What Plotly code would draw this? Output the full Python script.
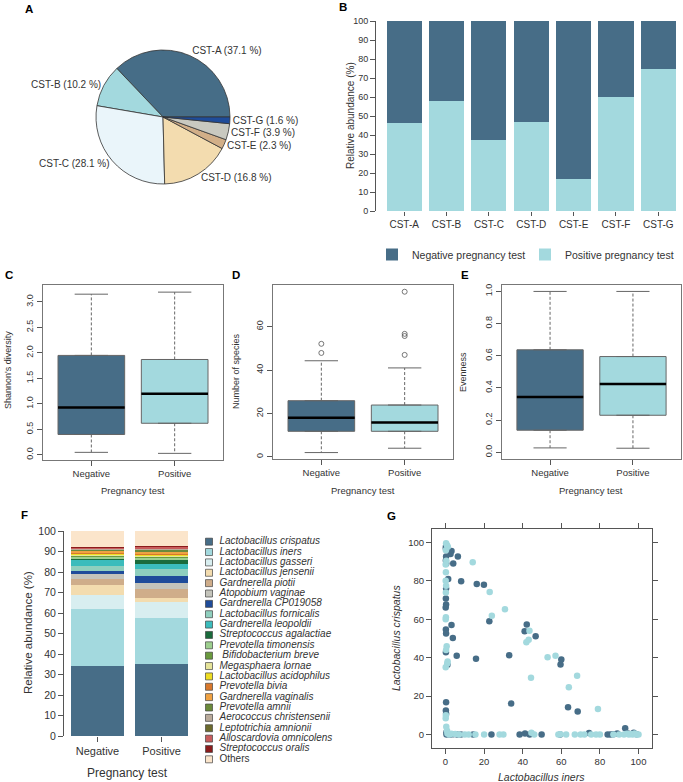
import plotly.graph_objects as go

W, H = 683, 782
FONT = "Liberation Sans, Arial, sans-serif"
TXT = "#333333"
DARK = "#476d87"
LIGHT = "#a3d9de"

# ---------------- Panel A data ----------------
cst_labels = ["CST-A", "CST-B", "CST-C", "CST-D", "CST-E", "CST-F", "CST-G"]
cst_share = [37.1, 10.2, 28.1, 16.8, 2.3, 3.9, 1.6]
cst_colors = ["#466d87", "#a3d9de", "#eaf5fa", "#f3dcaf", "#d2af88", "#c9c9c0", "#1f4c9a"]

# ---------------- Panel B data ----------------
cst_positive = [46.2, 57.7, 37.5, 46.6, 16.7, 60.0, 75.0]
cst_negative = [53.8, 42.3, 62.5, 53.4, 83.3, 40.0, 25.0]

# ---------------- Panels C-E data ----------------
groups = ["Negative", "Positive"]
shannon_low = [0.05, 0.03]
shannon_q1 = [0.40, 0.62]
shannon_med = [0.93, 1.20]
shannon_q3 = [1.95, 1.87]
shannon_high = [3.15, 3.19]
shannon_out = [[], []]

species_low = [2, 4]
species_q1 = [11.8, 11.8]
species_med = [18.1, 15.9]
species_q3 = [25.9, 23.9]
species_high = [44.3, 41.0]
species_out = [[52.1, 47.9], [76.1, 56.7, 55.7, 47.0]]

even_low = [0.027, 0.025]
even_q1 = [0.137, 0.23]
even_med = [0.344, 0.425]
even_q3 = [0.637, 0.595]
even_high = [1.0, 1.0]
even_out = [[], []]

# ---------------- Panel F data ----------------
taxa = ["Lactobacillus crispatus", "Lactobacillus iners", "Lactobacillus gasseri",
        "Lactobacillus jensenii", "Gardnerella piotii", "Atopobium vaginae",
        "Gardnerella CP019058", "Lactobacillus fornicalis", "Gardnerella leopoldii",
        "Streptococcus agalactiae", "Prevotella timonensis", " Bifidobacterium breve",
        "Megasphaera lornae", "Lactobacillus acidophilus", "Prevotella bivia",
        "Gardnerella vaginalis", "Prevotella amnii", "Aerococcus christensenii",
        "Leptotrichia amnionii", "Alloscardovia omnicolens", "Streptococcus oralis",
        "Others"]
taxa_colors = ["#476d87", "#a3d9de", "#d8eef0", "#f3dcaf", "#cfad8a", "#c4c4bb",
               "#1f4c9a", "#8fcfbe", "#3bbcbc", "#1a6b3c", "#9dcf8e", "#6a9a3e",
               "#e6e49a", "#eedd22", "#d8782c", "#f0a242", "#6b8a3a", "#b9aa9a",
               "#6b6a2c", "#c85c5c", "#8b1c1c", "#fbe5cb"]
abund_negative = [34.1, 27.7, 7.0, 4.9, 2.7, 2.6, 1.6, 2.5, 2.8, 0.9, 0.6, 0.5,
                  0.6, 0.6, 0.4, 1.2, 0.4, 0.3, 0.3, 0.2, 0.4, 7.7]
abund_positive = [35.0, 22.4, 8.1, 1.7, 4.5, 2.8, 3.7, 3.1, 2.4, 2.2, 1.0, 0.8,
                  0.4, 0.3, 0.6, 1.2, 0.6, 0.5, 0.4, 0.8, 0.3, 7.2]

# ---------------- Panel G data ----------------
iners_neg = [3.1, 2.6, 6.4, 4.0, 8.1, 16.2, 19.9, 22.7, 3.1, 3.8, 5.8, 15.8, 33.0, 34.0,
             41.0, 42.1, 46.7, 60.0, 59.6, 63.5, 68.5,
             0.2, 0.3, 0.2, 0.4, 0.3, 0.2, 0.3, 0.1, 0.2, 0.3, 1.4, 0.2, 1.0, 0.3, 0.2,
             0.3, 0.2, 0.5,
             0.5, 1.5, 2.5, 4.0, 6.0, 8.0, 14.3, 23.8, 38.4, 41.2, 43.6, 49.8, 59.4,
             74.4, 84.0, 85.5, 87.0, 89.0, 93.1, 94.5, 97.5, 99.0]
crisp_neg = [95.5, 94.0, 92.7, 89.0, 79.8, 78.4, 78.0, 59.0, 57.0, 50.2, 41.0, 39.4, 41.3, 16.1,
             53.8, 57.3, 51.2, 39.1, 36.5, 14.2, 12.0,
             96.9, 92.7, 90.6, 89.0, 76.0, 70.8, 67.7, 66.1, 54.7, 52.6, 81.0, 42.9, 36.3,
             16.8, 12.5, 10.8, 97.8, 1.2,
             0.0, 0.3, 0.0, 0.2, 0.0, 0.0, 0.0, 0.0, 0.0, 0.6, 0.0, 0.0, 0.0,
             0.8, 0.0, 0.0, 0.2, 0.6, 3.3, 0.5, 1.0, 0.2]
iners_pos = [0.3, 0.8, 1.2, 0.2, 0.4, 0.1, 0.2, 0.1, 0.3, 0.2, 0.2, 0.1, 0.6, 0.3, 1.1,
             0.9, 0.1, 0.2, 0.1, 0.4, 0.8,
             14.1, 22.9, 24.0, 30.8, 41.9, 43.1, 43.5, 44.3, 52.9, 57.0, 63.9, 68.2, 79.0,
             1.0, 2.0, 3.0, 5.0, 7.0, 10.0, 12.0, 15.5, 20.0, 28.0, 30.0, 44.5, 46.0,
             58.5, 59.5, 62.5, 67.0, 70.0, 72.0, 75.5, 78.0, 80.0, 87.0, 90.0, 92.5,
             94.0, 95.0, 96.0, 97.0, 98.0, 99.0, 100.0]
crisp_pos = [99.6, 98.5, 97.8, 96.0, 90.5, 88.5, 84.5, 80.0, 77.5, 74.0, 61.0, 60.0, 46.0,
             44.0, 38.0, 37.0, 35.0, 10.0, 8.5, 4.0, 2.0,
             89.7, 74.2, 61.8, 65.2, 48.0, 49.3, 54.0, 29.6, 40.3, 41.0, 24.6, 30.6, 13.3,
             0.5, 0.0, 0.4, 0.3, 0.0, 0.0, 0.0, 0.0, 0.0, 0.0, 0.0, 1.0, 0.0,
             0.0, 0.2, 0.0, 0.0, 0.0, 0.0, 0.0, 0.0, 0.0, 0.0, 0.0, 0.0,
             0.4, 0.0, 0.3, 0.0, 0.5, 0.0, 0.0]


def px(p):
    return p / W


def py(p):
    return 1 - p / H


fig = go.Figure()

# ---------------- A: pie ----------------
# counterclockwise pies in plotly end the first slice at `rotation`; start CST-A at 3 o'clock
pie_rotation = 90 - 360 * cst_share[0] / sum(cst_share)
fig.add_trace(go.Pie(
    values=cst_share, labels=cst_labels,
    text=[f"{l} ({v} %)" for l, v in zip(cst_labels, cst_share)],
    textinfo="text", textposition="outside", sort=False,
    direction="counterclockwise", rotation=pie_rotation,
    marker=dict(colors=cst_colors, line=dict(color="#333333", width=0.8)),
    textfont=dict(size=10, color=TXT, family=FONT),
    domain=dict(x=[px(96), px(230)], y=[py(184), py(50)]),
    showlegend=False, hoverinfo="label+percent"))

# ---------------- B: stacked bars ----------------
fig.add_trace(go.Bar(x=cst_labels, y=cst_positive, name="Positive pregnancy test",
                     marker=dict(color=LIGHT, line=dict(width=0)), legendrank=2,
                     xaxis="x", yaxis="y"))
fig.add_trace(go.Bar(x=cst_labels, y=cst_negative, name="Negative pregnancy test",
                     marker=dict(color=DARK, line=dict(width=0)), legendrank=1,
                     xaxis="x", yaxis="y"))


# ---------------- C-E: boxplots ----------------
def add_box(xa, ya, low, q1, med, q3, high, outs):
    fills = [DARK, LIGHT]
    for i in range(2):
        c = i + 1
        fig.add_trace(go.Box(x=[c], q1=[q1[i]], median=[med[i]], q3=[q3[i]],
                             lowerfence=[q1[i]], upperfence=[q3[i]], width=0.8,
                             fillcolor=fills[i], line=dict(color="#666666", width=1),
                             xaxis=xa, yaxis=ya, showlegend=False, hoverinfo="skip"))
        # dashed whiskers
        fig.add_trace(go.Scatter(x=[c, c, None, c, c], y=[q3[i], high[i], None, q1[i], low[i]],
                                 mode="lines", line=dict(color="#666666", width=1, dash="3px,2px"),
                                 xaxis=xa, yaxis=ya, showlegend=False, hoverinfo="skip"))
        # caps
        fig.add_trace(go.Scatter(x=[c - 0.2, c + 0.2, None, c - 0.2, c + 0.2],
                                 y=[high[i], high[i], None, low[i], low[i]],
                                 mode="lines", line=dict(color="#666666", width=1),
                                 xaxis=xa, yaxis=ya, showlegend=False, hoverinfo="skip"))
        # median
        fig.add_trace(go.Scatter(x=[c - 0.4, c + 0.4], y=[med[i], med[i]], mode="lines",
                                 line=dict(color="black", width=2.5),
                                 xaxis=xa, yaxis=ya, showlegend=False, hoverinfo="skip"))
        if outs[i]:
            fig.add_trace(go.Scatter(x=[c] * len(outs[i]), y=outs[i], mode="markers",
                                     marker=dict(symbol="circle-open", size=5, color="#555555",
                                                 line=dict(width=0.8)),
                                     xaxis=xa, yaxis=ya, showlegend=False, hoverinfo="skip"))


add_box("x2", "y2", shannon_low, shannon_q1, shannon_med, shannon_q3, shannon_high, shannon_out)
add_box("x3", "y3", species_low, species_q1, species_med, species_q3, species_high, species_out)
add_box("x4", "y4", even_low, even_q1, even_med, even_q3, even_high, even_out)

# ---------------- F: stacked composition ----------------
for name, col, vn, vp in zip(taxa, taxa_colors, abund_negative, abund_positive):
    fig.add_trace(go.Bar(x=groups, y=[vn, vp], name=name.strip(),
                         marker=dict(color=col, line=dict(width=0)),
                         xaxis="x5", yaxis="y5", showlegend=False))

# manual legend for F
fig.add_trace(go.Scatter(x=[0] * len(taxa), y=list(range(len(taxa))), mode="markers",
                         marker=dict(symbol="square", size=7, color=taxa_colors,
                                     line=dict(color="#444444", width=0.7)),
                         xaxis="x6", yaxis="y6", showlegend=False, cliponaxis=False,
                         hoverinfo="skip"))
legend_text = [("<i>" + t + "</i>") if t != "Others" else t for t in taxa]
fig.add_trace(go.Scatter(x=[0.08] * len(taxa), y=list(range(len(taxa))), mode="text",
                         text=legend_text, textposition="middle right",
                         textfont=dict(size=10, color=TXT, family=FONT),
                         xaxis="x6", yaxis="y6", showlegend=False, cliponaxis=False,
                         hoverinfo="skip"))

# ---------------- G: scatter ----------------
fig.add_trace(go.Scatter(x=iners_neg, y=crisp_neg, mode="markers",
                         marker=dict(size=6.5, color=DARK), xaxis="x7", yaxis="y7",
                         showlegend=False, name="Negative"))
fig.add_trace(go.Scatter(x=iners_pos, y=crisp_pos, mode="markers",
                         marker=dict(size=6.5, color=LIGHT), xaxis="x7", yaxis="y7",
                         showlegend=False, name="Positive"))

tickfont = dict(size=9, color=TXT, family=FONT)
AX = "#555555"

box_x = dict(range=[0.42, 2.58], tickvals=[1, 2], ticktext=groups, showline=True,
             mirror=True, linecolor="#777777", linewidth=1, ticks="outside", ticklen=5,
             tickcolor="#555555", showgrid=False, zeroline=False, tickfont=dict(size=9.5, color=TXT, family=FONT))
box_y = dict(showline=True, mirror=True, linecolor="#777777", linewidth=1, ticks="outside",
             ticklen=5, tickcolor="#555555", showgrid=False, zeroline=False, tickangle=-90,
             tickfont=tickfont)

fig.update_layout(
    width=W, height=H, margin=dict(l=0, r=0, t=0, b=0, autoexpand=False),
    paper_bgcolor="white", plot_bgcolor="white",
    font=dict(family=FONT, color=TXT),
    barmode="stack", bargap=0.17,
    # B
    xaxis=dict(domain=[px(383), px(679.5)], anchor="y", showline=False, ticks="outside",
               ticklen=4, tickcolor=AX, showgrid=False, tickfont=dict(size=10, color=TXT, family=FONT)),
    yaxis=dict(domain=[py(211), py(21)], anchor="free", position=px(375), range=[0, 100],
               tickvals=list(range(0, 101, 10)), showline=True, linecolor=AX, ticks="outside",
               ticklen=5, tickcolor=AX, showgrid=False, zeroline=False,
               tickfont=dict(size=9, color=TXT, family=FONT)),
    # C
    xaxis2=dict(domain=[px(43), px(223)], anchor="y2", **box_x),
    yaxis2=dict(domain=[py(460), py(285)], anchor="x2", range=[-0.1, 3.33],
                tickvals=[0, 0.5, 1, 1.5, 2, 2.5, 3], ticktext=["0.0", "0.5", "1.0", "1.5", "2.0", "2.5", "3.0"], **box_y),
    # D
    xaxis3=dict(domain=[px(273), px(453)], anchor="y3", **box_x),
    yaxis3=dict(domain=[py(459), py(285)], anchor="x3", range=[-0.96, 79.2],
                tickvals=[0, 20, 40, 60], **box_y),
    # E
    xaxis4=dict(domain=[px(502), px(681)], anchor="y4", **box_x),
    yaxis4=dict(domain=[py(459), py(285)], anchor="x4", range=[-0.042, 1.04],
                tickvals=[0, 0.2, 0.4, 0.6, 0.8, 1.0], ticktext=["0.0", "0.2", "0.4", "0.6", "0.8", "1.0"], **box_y),
    # F
    xaxis5=dict(domain=[px(65.5), px(193.5)], anchor="y5", showline=False, ticks="outside",
                ticklen=5, tickcolor=AX, showgrid=False, tickfont=dict(size=11, color=TXT, family=FONT)),
    yaxis5=dict(domain=[py(736), py(531)], anchor="free", position=px(63), range=[0, 100],
                tickvals=list(range(0, 101, 10)), showline=True, linecolor=AX, ticks="outside",
                ticklen=5, tickcolor=AX, showgrid=False, zeroline=False,
                tickfont=dict(size=10.5, color=TXT, family=FONT)),
    # F legend
    xaxis6=dict(domain=[px(209), px(340)], anchor="y6", range=[0, 1], visible=False),
    yaxis6=dict(domain=[py(764.5), py(536.5)], anchor="x6", range=[21.5, -0.5], visible=False),
    # G
    xaxis7=dict(domain=[px(432), px(652)], anchor="y7", range=[-7, 107],
                tickvals=[0, 20, 40, 60, 80, 100], showline=True, mirror="ticks", linecolor=AX,
                ticks="outside", ticklen=5, tickcolor=AX, showgrid=False, zeroline=False,
                tickfont=dict(size=9.5, color=TXT, family=FONT)),
    yaxis7=dict(domain=[py(748), py(529)], anchor="x7", range=[-7, 107],
                tickvals=[0, 20, 40, 60, 80, 100], showline=True, mirror="ticks", linecolor=AX,
                ticks="outside", ticklen=5, tickcolor=AX, showgrid=False, zeroline=False,
                tickfont=dict(size=9.5, color=TXT, family=FONT)),
    legend=dict(orientation="h", x=px(372), y=py(240), xanchor="left", yanchor="top",
                font=dict(size=10.5, color=TXT, family=FONT), traceorder="normal",
                entrywidth=108, entrywidthmode="pixels",
                bgcolor="rgba(0,0,0,0)", itemclick=False),
)

ann = []


def label(text, x, y, size=10.5, angle=0, bold=False, italic=False):
    t = text
    if bold:
        t = "<b>" + t + "</b>"
    if italic:
        t = "<i>" + t + "</i>"
    ann.append(dict(text=t, x=px(x), y=py(y), xref="paper", yref="paper", showarrow=False,
                    textangle=angle, xanchor="center", yanchor="middle",
                    font=dict(size=size, color="black" if bold else TXT, family=FONT)))


for letter, x, y in [("A", 29, 9), ("B", 343, 7), ("C", 9, 275), ("D", 236, 275),
                     ("E", 465, 275), ("F", 24, 515), ("G", 391, 516)]:
    label(letter, x, y, size=11.5, bold=True)

label("Relative abundance (%)", 350, 116, size=10, angle=-90)
label("Shannon's diversity", 8, 370, size=9, angle=-90)
label("Number of species", 236, 371, size=9, angle=-90)
label("Evenness", 463, 372, size=9, angle=-90)
for cx in [133, 363, 591]:
    label("Pregnancy test", cx, 490, size=9.5)
label("Relative abundance (%)", 28, 633, size=11.5, angle=-90)
label("Pregnancy test", 127, 773, size=12)
label("Lactobacillus crispatus", 396, 638, size=10.5, angle=-90, italic=True)
label("Lactobacillus iners", 541, 777, size=10.5, italic=True)

fig.update_layout(annotations=ann)

fig.write_html("out.html")
